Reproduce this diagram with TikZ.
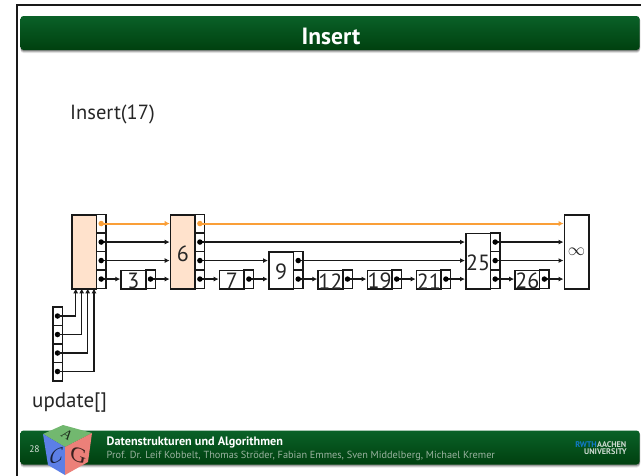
\documentclass[tikz,border=0pt]{standalone}
\usepackage{fontspec}
\setmainfont{PT Sans}
\newfontfamily\serifcube{Liberation Serif}
\definecolor{bartop}{HTML}{0A6128}
\definecolor{barbot}{HTML}{00400F}
\definecolor{hl}{HTML}{FFE2CC}
\definecolor{orangeline}{HTML}{FA9F38}
\definecolor{cubeg}{HTML}{72B86F}
\definecolor{cubeb}{HTML}{5C7FE6}
\definecolor{cuber}{HTML}{EC8079}
\usetikzlibrary{arrows.meta}
\tikzset{
  cell/.style={draw=black!90,line width=1.5pt,fill=white},
  key/.style={font=\fontsize{22}{22}\selectfont,inner sep=0pt,text=black!85,yshift=-1.5pt},
  link/.style={line width=1.4pt,draw=black!90,-{Latex[length=5pt,width=5pt]}},
  orangelink/.style={line width=2pt,draw=orangeline,-{Latex[length=5pt,width=5.5pt]}},
  dotb/.style={circle,fill=black,inner sep=0pt,minimum size=5.5pt},
  doto/.style={circle,fill=orangeline,inner sep=0pt,minimum size=5.5pt},
  bar/.style={rounded corners=3pt,top color=bartop,bottom color=barbot,draw=none},
}
\newcommand{\gbar}[2]{%
  \fill[black,opacity=.10,rounded corners=3pt] (20.5,#1+1) rectangle (640,#2+3);
  \fill[black,opacity=.18,rounded corners=3pt] (20.5,#1+1) rectangle (640,#2+2);
  \fill[black,opacity=.25,rounded corners=3pt] (20.5,#1+1) rectangle (640,#2+1);
  \shade[bar] (20.5,#1) rectangle (639.5,#2);
}
\newcommand{\ptrcell}[3]{% name, x, row center
  \node[cell,minimum width=9.5pt,minimum height=18.5pt,inner sep=0pt,anchor=west] (#1) at (#2,#3) {};}
\begin{document}
\begin{tikzpicture}[x=1pt,y=-1pt]
\useasboundingbox (0,0) rectangle (641,475);
\fill[white] (0,0) rectangle (641,475);
\draw[line width=1.5pt,draw=black!90] (17,476) -- (17,5) -- (642,5);
\gbar{16}{50}
\gbar{430.5}{464.5}
\node[font=\bfseries\fontsize{23.5}{24}\selectfont,text=white,inner sep=0pt] (title) at (331,36) {Insert};
\node[font=\fontsize{20.5}{21}\selectfont,anchor=west,inner sep=0pt,text=black!85] (ins) at (70,114) {Insert(17)};
\node[font=\fontsize{21}{21}\selectfont,anchor=west,inner sep=0pt,text=black!85] (upd) at (32,402.5) {update[]};
% head
\node[cell,fill=hl,minimum width=24.7pt,minimum height=74pt,inner sep=0pt,anchor=north west] (h) at (71,214.3) {};
\node[cell,fill=hl,minimum width=24.7pt,minimum height=74pt,inner sep=0pt,anchor=north west,label={[key]center:6}] (n6) at (169.7,214.3) {};
\node[cell,minimum width=24.7pt,minimum height=18.6pt,inner sep=0pt,anchor=north west,label={[key]center:3}] (n3) at (120.3,269.7) {};
\node[cell,minimum width=24.7pt,minimum height=18.6pt,inner sep=0pt,anchor=north west,label={[key]center:7}] (n7) at (218.7,269.7) {};
\node[cell,minimum width=24.7pt,minimum height=37pt,inner sep=0pt,anchor=north west,label={[key]center:9}] (n9) at (268,251.3) {};
\node[cell,minimum width=24.7pt,minimum height=18.6pt,inner sep=0pt,anchor=north west,label={[key]center:12}] (n12) at (317.3,269.7) {};
\node[cell,minimum width=24.7pt,minimum height=18.6pt,inner sep=0pt,anchor=north west,label={[key]center:19}] (n19) at (366.5,269.7) {};
\node[cell,minimum width=24.7pt,minimum height=18.6pt,inner sep=0pt,anchor=north west,label={[key]center:21}] (n21) at (415.7,269.7) {};
\node[cell,minimum width=24.7pt,minimum height=55.6pt,inner sep=0pt,anchor=north west,label={[key]center:25}] (n25) at (465,232.7) {};
\node[cell,minimum width=24.7pt,minimum height=18.6pt,inner sep=0pt,anchor=north west,label={[key]center:26}] (n26) at (514.2,269.7) {};
\node[cell,minimum width=24.7pt,minimum height=74pt,inner sep=0pt,anchor=north west,label={[font=\fontsize{19}{19}\selectfont,inner sep=0pt,text=black!85]center:$\infty$}] (ninf) at (563.5,214.3) {};
% pointer cells
\foreach \n/\x/\lv in {h/95.7/4,n6/194.4/4,n3/145/1,n7/243.4/1,n9/292.7/2,n12/342/1,n19/391.2/1,n21/440.4/1,n25/489.7/3,n26/538.9/1}{
  \foreach \i [evaluate=\i as \yy using 288.3-9.25-(\i-1)*18.5] in {1,...,\lv}{
    \ptrcell{\n c\i}{\x}{\yy}
  }
}
% update cells
\foreach \i/\yy in {1/316,2/334.5,3/353,4/371.5}{
  \node[cell,minimum width=9.5pt,minimum height=18.5pt,inner sep=0pt] (u\i) at (57.5,\yy) {};
}
% links level 4
\draw[orangelink] (hc4.center) -- (n6.west |- hc4.center);
\draw[orangelink] (n6c4.center) -- (ninf.west |- n6c4.center);
\node[doto] at (hc4) {}; \node[doto] at (n6c4) {};
% level 3
\draw[link] (hc3.center) -- (n6.west |- hc3.center);
\draw[link] (n6c3.center) -- (n25.west |- n6c3.center);
\draw[link] (n25c3.center) -- (ninf.west |- n25c3.center);
% level 2
\draw[link] (hc2.center) -- (n6.west |- hc2.center);
\draw[link] (n6c2.center) -- (n9.west |- n6c2.center);
\draw[link] (n9c2.center) -- (n25.west |- n9c2.center);
\draw[link] (n25c2.center) -- (ninf.west |- n25c2.center);
% level 1
\draw[link] (hc1.center) -- (n3.west |- hc1.center);
\draw[link] (n3c1.center) -- (n6.west |- n3c1.center);
\draw[link] (n6c1.center) -- (n7.west |- n6c1.center);
\draw[link] (n7c1.center) -- (n9.west |- n7c1.center);
\draw[link] (n9c1.center) -- (n12.west |- n9c1.center);
\draw[link] (n12c1.center) -- (n19.west |- n12c1.center);
\draw[link] (n19c1.center) -- (n21.west |- n19c1.center);
\draw[link] (n21c1.center) -- (n25.west |- n21c1.center);
\draw[link] (n25c1.center) -- (n26.west |- n25c1.center);
\draw[link] (n26c1.center) -- (ninf.west |- n26c1.center);
% dots
\foreach \c in {hc3,hc2,hc1,n6c3,n6c2,n6c1,n3c1,n7c1,n9c2,n9c1,n12c1,n19c1,n21c1,n25c3,n25c2,n25c1,n26c1,u1,u2,u3,u4}{
  \node[dotb] at (\c) {};
}
% update links
\coordinate (t1) at (75.7,288.3);
\coordinate (t2) at (81.7,288.3);
\coordinate (t3) at (87.7,288.3);
\coordinate (t4) at (94,288.3);
\draw[link] (u1.center) -| (t1);
\draw[link] (u2.center) -| (t2);
\draw[link] (u3.center) -| (t3);
\draw[link] (u4.center) -| (t4);
% footer text
\node[font=\bfseries\fontsize{12.2}{13}\selectfont,text=white,anchor=west,inner sep=0pt] (ft1) at (106.5,442) {Datenstrukturen und Algorithmen};
\node[font=\fontsize{10.3}{11}\selectfont,text=white!60!barbot,anchor=west,inner sep=0pt] (ft2) at (106.5,456) {Prof. Dr. Leif Kobbelt, Thomas Ströder, Fabian Emmes, Sven Middelberg, Michael Kremer};
\node[font=\fontsize{9.5}{10}\selectfont,text=white!85!barbot,inner sep=0pt] (pg) at (34.5,449) {28};
% cube
\fill[cubeg] (63,425) -- (92,433) -- (65,447) -- (43,434) -- cycle;
\fill[cubeb] (43,434) -- (65,447) -- (65,475) -- (48,465) -- cycle;
\fill[cuber] (92,433) -- (65,447) -- (65,475) -- (88,462) -- cycle;
\node[font=\serifcube\itshape\fontsize{14}{14}\selectfont,text=black!75!cubeg,inner sep=0pt,rotate=-30] (ca) at (67,435) {A};
\node[font=\serifcube\itshape\fontsize{20}{20}\selectfont,text=black!75!cubeb,inner sep=0pt,yslant=.4] (cc) at (56,456) {C};
\node[font=\serifcube\itshape\fontsize{22}{22}\selectfont,text=black!75!cuber,inner sep=0pt,yslant=-.35] (cg) at (78,455) {G};
% RWTH logo
\node[font=\bfseries\fontsize{8.2}{8.2}\selectfont,text=cyan!60!blue,anchor=east,inner sep=0pt] (rw) at (597,444.5) {RWTH};
\node[font=\bfseries\fontsize{8.2}{8.2}\selectfont,text=white!80!barbot,anchor=west,inner sep=0pt] (aa) at (597,444.5) {AACHEN};
\node[font=\bfseries\fontsize{8.2}{8.2}\selectfont,text=white!80!barbot,anchor=east,inner sep=0pt] (un) at (627,451.5) {UNIVERSITY};
\end{tikzpicture}
\end{document}
